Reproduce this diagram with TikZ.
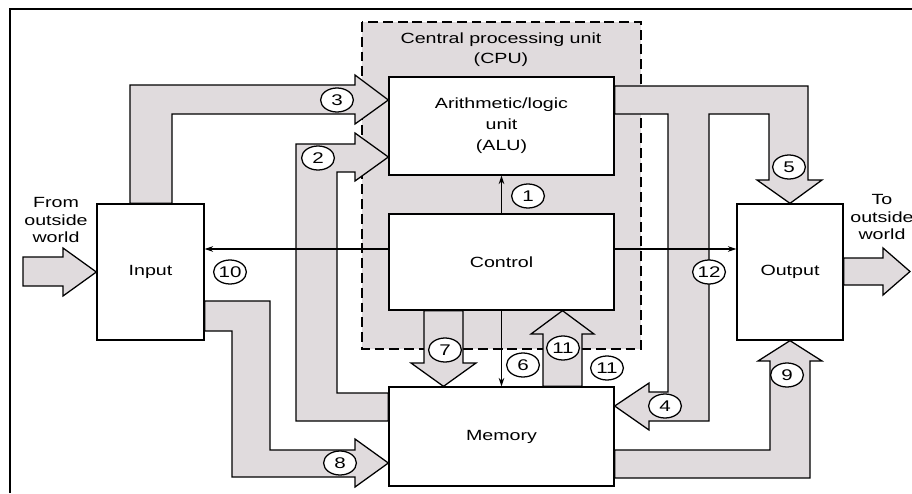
\documentclass[tikz,border=0pt]{standalone}
\usepackage{fontspec}
\setmainfont{Liberation Sans}[FakeStretch=1.33]
\usepackage{xcolor}
\usepackage{tikz}
\usetikzlibrary{arrows.meta, shapes.geometric}
\definecolor{busgray}{RGB}{224, 219, 221}

\begin{document}
\begin{tikzpicture}[
  x=0.025cm, y=-0.025cm,
  box/.style={rectangle, draw, line width=0.9pt, fill=white,
              align=center, font=\fontsize{10.5}{15}\selectfont},
  bus/.style={draw, line width=0.9pt, fill=busgray, line join=miter},
  arrow/.style={-{Stealth[length=6pt, width=4pt]}, line width=0.9pt},
  num/.style={ellipse, draw, line width=0.9pt, fill=white, inner sep=0pt,
              minimum width=0.82cm, minimum height=0.6cm,
              font=\fontsize{11}{12}\selectfont},
  note/.style={align=center, font=\fontsize{10.5}{12.2}\selectfont}
]
\useasboundingbox (0,0) rectangle (912,493);

% frame
\draw[line width=2pt] (10,493) -- (10,9) -- (912,9);

% CPU area
\draw[dash pattern=on 7pt off 3.5pt, line width=0.9pt, fill=busgray]
  (362,22) rectangle (641,349);
\node[note, font=\fontsize{10.5}{14.2}\selectfont] (cpu) at (501,50)
  {Central processing unit\\(CPU)};

% units
\node[box, minimum width=5.625cm, minimum height=2.45cm] (alu) at (501.5,126)
  {Arithmetic/logic\\unit\\(ALU)};
\node[box, minimum width=5.625cm, minimum height=2.4cm] (ctrl) at (501.5,262) {Control};
\node[box, minimum width=5.625cm, minimum height=2.475cm] (mem) at (501.5,436.5) {Memory};
\node[box, minimum width=2.675cm, minimum height=3.4cm] (in) at (150.5,272) {Input};
\node[box, minimum width=2.65cm, minimum height=3.4cm] (out) at (790,272) {Output};

% outside world
\node[note] (from) at (56,220) {From\\outside\\world};
\node[note] (to) at (882,217) {To\\outside\\world};
\draw[bus] (23,257) -- (63,257) -- (63,248) -- (in.west) -- (63,296)
  -- (63,286) -- (23,286) -- cycle;
\draw[bus] (out.east |- 0,258) -- (883,258) -- (883,248) -- (910,271.5)
  -- (883,295) -- (883,285) -- (out.east |- 0,285) -- cycle;

% input to ALU (3)
\draw[bus] (130,0 |- in.north) -- (130,85) -- (355,85) -- (355,75)
  -- (alu.west |- 0,100) -- (355,124) -- (355,114) -- (172,114)
  -- (172,0 |- in.north) -- cycle;
% memory to ALU (2)
\draw[bus] (mem.west |- 0,421) -- (296,421) -- (296,144) -- (355,144)
  -- (355,133) -- (alu.west |- 0,157) -- (355,181) -- (355,172)
  -- (337,172) -- (337,393) -- (mem.west |- 0,393) -- cycle;
% input to memory (8)
\draw[bus] (in.east |- 0,301) -- (270,301) -- (270,450) -- (355,450)
  -- (355,439) -- (mem.west |- 0,463) -- (355,487) -- (355,477)
  -- (232,477) -- (232,331) -- (in.east |- 0,331) -- cycle;
% ALU to output (5) and to memory (4)
\draw[bus] (alu.east |- 0,86) -- (808,86) -- (808,180) -- (822,180)
  -- (out.north) -- (757,180) -- (769,180) -- (769,114) -- (709,114)
  -- (709,421) -- (649,421) -- (649,430) -- (mem.east |- 0,406)
  -- (649,383) -- (649,392) -- (668,392) -- (668,114)
  -- (alu.east |- 0,114) -- cycle;
% memory to output (9)
\draw[bus] (mem.east |- 0,450) -- (770,450) -- (770,361) -- (758,361)
  -- (out.south) -- (822,361) -- (810,361) -- (810,478)
  -- (mem.east |- 0,478) -- cycle;
% control to memory (7)
\draw[bus] (424,0 |- ctrl.south) -- (424,363) -- (411,363)
  -- (443.5,0 |- mem.north) -- (476,363) -- (463,363)
  -- (463,0 |- ctrl.south) -- cycle;
% memory to control (11)
\draw[bus] (543,0 |- mem.north) -- (543,334) -- (531,334)
  -- (562.5,0 |- ctrl.south) -- (594,334) -- (582,334)
  -- (582,0 |- mem.north) -- cycle;

% control lines
\coordinate (midline) at (0,249);
\draw[arrow] (ctrl.north) -- (alu.south);
\draw[arrow] (ctrl.south) -- (mem.north);
\draw[arrow] (ctrl.west |- midline) -- (in.east |- midline);
\draw[arrow] (ctrl.east |- midline) -- (out.west |- midline);

% numbers
\node[num] (n1) at (528,196) {1};
\node[num] (n2) at (318,158) {2};
\node[num] (n3) at (337,100) {3};
\node[num] (n4) at (665,406) {4};
\node[num] (n5) at (789,167) {5};
\node[num] (n6) at (523,365) {6};
\node[num] (n7) at (445,350) {7};
\node[num] (n8) at (340,463) {8};
\node[num] (n9) at (787,375) {9};
\node[num] (n10) at (230,272) {10};
\node[num] (n11a) at (563,348) {11};
\node[num] (n11b) at (607,368) {11};
\node[num] (n12) at (709,272) {12};

\end{tikzpicture}
\end{document}
